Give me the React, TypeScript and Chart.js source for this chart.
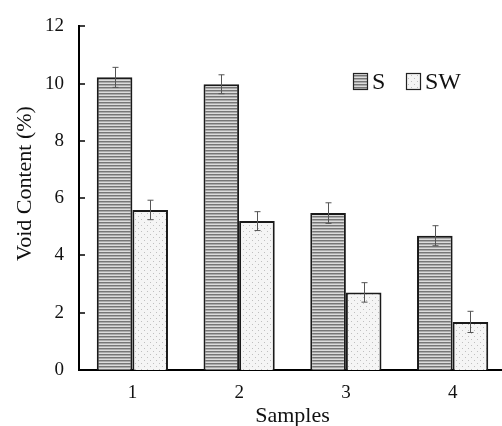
import { useEffect, useRef } from "react";
import { Chart, registerables } from "chart.js";

Chart.register(...registerables);

const categories = ["1", "2", "3", "4"];
const seriesLabels = ["S", "SW"];
const sValues = [10.22, 9.98, 5.48, 4.69];
const sErrors = [0.35, 0.33, 0.36, 0.35];
const swValues = [5.59, 5.2, 2.71, 1.68];
const swErrors = [0.34, 0.33, 0.34, 0.37];
const yTicks = [0, 2, 4, 6, 8, 10, 12];
const xTitle = "Samples";
const yTitle = "Void Content (%)";

const FONT = "'Liberation Serif', 'Times New Roman', serif";

function stripePattern(ctx: CanvasRenderingContext2D) {
  const c = document.createElement("canvas");
  c.width = 4;
  c.height = 3;
  const g = c.getContext("2d")!;
  g.fillStyle = "#dcdcdc";
  g.fillRect(0, 0, 4, 3);
  g.fillStyle = "#767676";
  g.fillRect(0, 0, 4, 1);
  g.fillStyle = "#ababab";
  g.fillRect(0, 1, 4, 1);
  return ctx.createPattern(c, "repeat")!;
}

function dotPattern(ctx: CanvasRenderingContext2D) {
  const c = document.createElement("canvas");
  c.width = 6;
  c.height = 6;
  const g = c.getContext("2d")!;
  g.fillStyle = "#f5f5f5";
  g.fillRect(0, 0, 6, 6);
  g.fillStyle = "#c0c0c0";
  g.fillRect(0, 0, 1, 1);
  g.fillRect(3, 3, 1, 1);
  return ctx.createPattern(c, "repeat")!;
}

const errorBarPlugin = {
  id: "errorBars",
  afterDatasetsDraw(chart: any) {
    const ctx = chart.ctx;
    const y = chart.scales.y;
    ctx.save();
    ctx.strokeStyle = "#555";
    ctx.lineWidth = 1;
    chart.data.datasets.forEach((ds: any, i: number) => {
      const meta = chart.getDatasetMeta(i);
      meta.data.forEach((bar: any, j: number) => {
        const v = ds.data[j];
        const e = ds.errors[j];
        const x = Math.round(bar.x) + 0.5;
        const yt = y.getPixelForValue(v + e);
        const yb = y.getPixelForValue(v - e);
        ctx.beginPath();
        ctx.moveTo(x, yt);
        ctx.lineTo(x, yb);
        ctx.moveTo(x - 3, yt);
        ctx.lineTo(x + 3, yt);
        ctx.moveTo(x - 3, yb);
        ctx.lineTo(x + 3, yb);
        ctx.stroke();
      });
    });
    ctx.restore();
  },
};

const decorPlugin = {
  id: "decor",
  afterDraw(chart: any) {
    const ctx = chart.ctx;
    const area = chart.chartArea;
    const y = chart.scales.y;
    ctx.save();
    // inward y ticks
    ctx.strokeStyle = "#000";
    ctx.lineWidth = 1.5;
    yTicks.forEach((t) => {
      const py = Math.round(y.getPixelForValue(t));
      ctx.beginPath();
      ctx.moveTo(area.left, py);
      ctx.lineTo(area.left + 6, py);
      ctx.stroke();
    });
    // axis titles
    ctx.fillStyle = "#111";
    ctx.font = `22px ${FONT}`;
    ctx.textAlign = "center";
    ctx.textBaseline = "alphabetic";
    ctx.fillText(xTitle, (area.left + area.right) / 2, 422);
    ctx.save();
    ctx.translate(31, 183.5);
    ctx.rotate(-Math.PI / 2);
    ctx.fillText(yTitle, 0, 0);
    ctx.restore();
    // legend
    const boxes = [353, 406];
    chart.data.datasets.forEach((ds: any, i: number) => {
      const bx = boxes[i];
      ctx.fillStyle = ds.backgroundColor;
      ctx.fillRect(bx, 73, 14, 16);
      ctx.strokeStyle = "#222";
      ctx.lineWidth = 1.2;
      ctx.strokeRect(bx + 0.5, 73.5, 14, 16);
      ctx.fillStyle = "#111";
      ctx.font = `24px ${FONT}`;
      ctx.textAlign = "left";
      ctx.fillText(ds.label, bx + 19, 89);
    });
    ctx.restore();
  },
};

export default function App() {
  const ref = useRef<HTMLCanvasElement | null>(null);
  useEffect(() => {
    const canvas = ref.current!;
    const ctx = canvas.getContext("2d")!;
    const chart = new Chart(canvas, {
      type: "bar",
      data: {
        labels: categories,
        datasets: [
          {
            label: seriesLabels[0],
            data: sValues,
            errors: sErrors,
            backgroundColor: stripePattern(ctx),
            borderColor: "#1a1a1a",
            borderWidth: 2,
            categoryPercentage: 0.667,
            barPercentage: 1,
          } as any,
          {
            label: seriesLabels[1],
            data: swValues,
            errors: swErrors,
            backgroundColor: dotPattern(ctx),
            borderColor: "#1a1a1a",
            borderWidth: 2,
            categoryPercentage: 0.667,
            barPercentage: 1,
          } as any,
        ],
      },
      options: {
        responsive: false,
        animation: false,
        devicePixelRatio: 1,
        layout: { padding: { left: 0, right: 4, top: 20, bottom: 0 } },
        plugins: {
          legend: { display: false },
          tooltip: { enabled: false },
          title: { display: false },
        },
        scales: {
          x: {
            offset: true,
            grid: { display: false, drawTicks: false },
            border: { display: true, color: "#000", width: 2 },
            ticks: {
              padding: 12,
              color: "#111",
              font: { family: FONT, size: 19 },
            },
            afterFit(scale: any) {
              scale.height = 56;
            },
          },
          y: {
            min: 0,
            max: 12,
            grid: { display: false, drawTicks: false },
            border: { display: true, color: "#000", width: 2 },
            ticks: {
              stepSize: 2,
              padding: 15,
              color: "#111",
              font: { family: FONT, size: 19 },
            },
            afterFit(scale: any) {
              scale.width = 79;
            },
          },
        },
      },
      plugins: [errorBarPlugin, decorPlugin],
    });
    return () => chart.destroy();
  }, []);
  return (
    <div
      style={{
        position: "absolute",
        left: 0,
        top: 0,
        width: 502,
        height: 426,
        overflow: "hidden",
        background: "#fff",
      }}
    >
      <canvas ref={ref} width={510} height={426} style={{ display: "block" }} />
    </div>
  );
}
